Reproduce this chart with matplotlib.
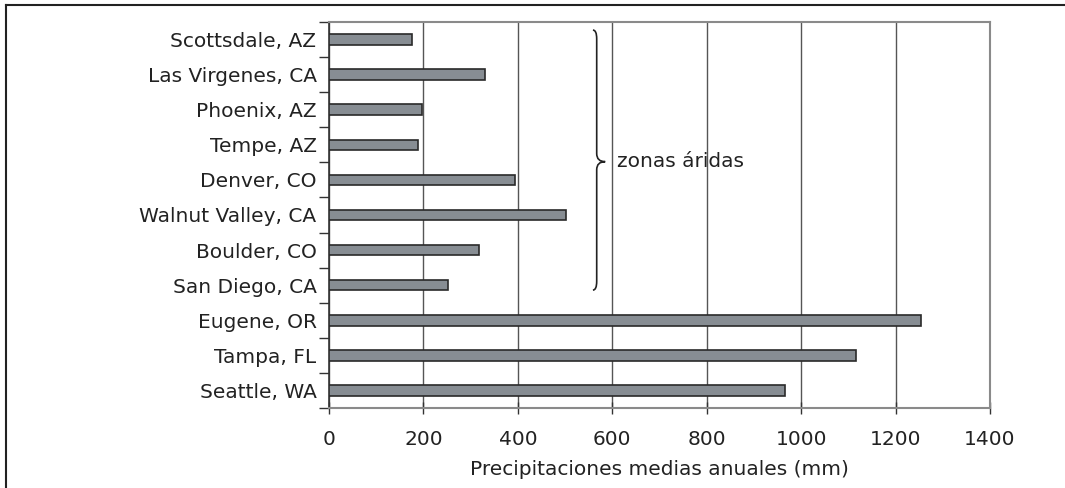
import matplotlib
matplotlib.use("Agg")
import matplotlib.pyplot as plt
from matplotlib.path import Path
from matplotlib.patches import PathPatch
from matplotlib.lines import Line2D
import numpy as np

# data (top to bottom as shown)
cities = ['Scottsdale, AZ', 'Las Virgenes, CA', 'Phoenix, AZ', 'Tempe, AZ',
          'Denver, CO', 'Walnut Valley, CA', 'Boulder, CO', 'San Diego, CA',
          'Eugene, OR', 'Tampa, FL', 'Seattle, WA']
precip_mm = [175, 330, 196, 188, 393, 502, 317, 251, 1254, 1116, 966]
xticks = [0, 200, 400, 600, 800, 1000, 1200, 1400]

fig = plt.figure(figsize=(10.65, 4.88), dpi=100)
ax = fig.add_axes([329 / 1065, 80 / 488, 661 / 1065, 386 / 488])

y = np.arange(len(cities))
ax.barh(y, precip_mm, height=0.3, color='#878d93', edgecolor='#2a2a2a',
        linewidth=1.2, zorder=3)

ax.set_xlim(0, 1400)
ax.set_ylim(len(cities) - 0.5, -0.5)
ax.set_xticks(xticks)
ax.set_yticks(y)
ax.set_yticklabels(cities)
ax.set_yticks(np.arange(-0.5, len(cities), 1), minor=True)
ax.tick_params(axis='y', which='major', length=0, pad=9, labelsize=14.5,
               labelcolor='#222222')
ax.tick_params(axis='y', which='minor', length=7, width=1, color='#333333')
ax.tick_params(axis='x', direction='inout', length=9, width=1, color='#333333',
               labelsize=14.5, labelcolor='#222222', pad=11)

ax.grid(axis='x', color='#555555', linewidth=1.0, zorder=0)
ax.set_axisbelow(True)
for side in ['top', 'right', 'bottom']:
    ax.spines[side].set_color('#8a8a8a')
    ax.spines[side].set_linewidth(1.5)
ax.spines['left'].set_color('#333333')
ax.spines['left'].set_linewidth(1.2)

ax.set_xlabel('Precipitaciones medias anuales (mm)', fontsize=14.5,
              color='#222222', labelpad=8)

# brace around the arid cities
bx, tip = 567, 585
y0, ym, y1 = -0.27, 3.48, 7.14
verts = [(559, y0), (bx, y0), (bx, y0 + 0.25),
         (bx, ym - 0.23),
         (bx, ym), (tip, ym),
         (bx, ym), (bx, ym + 0.23),
         (bx, y1 - 0.25),
         (bx, y1), (559, y1)]
codes = [Path.MOVETO, Path.CURVE3, Path.CURVE3,
         Path.LINETO,
         Path.CURVE3, Path.CURVE3,
         Path.CURVE3, Path.CURVE3,
         Path.LINETO,
         Path.CURVE3, Path.CURVE3]
ax.add_patch(PathPatch(Path(verts, codes), fill=False, edgecolor='#222222',
                       linewidth=1.2, zorder=4))
ax.text(610, ym, 'zonas áridas', fontsize=14.5, color='#222222',
        va='center', ha='left', zorder=4)

# outer frame lines (top and left)
fig.add_artist(Line2D([6 / 1065, 1], [1 - 5 / 488, 1 - 5 / 488],
                      color='#222222', linewidth=1.5))
fig.add_artist(Line2D([6 / 1065, 6 / 1065], [0, 1 - 5 / 488],
                      color='#222222', linewidth=1.5))

fig.savefig('out.png', dpi=100)
